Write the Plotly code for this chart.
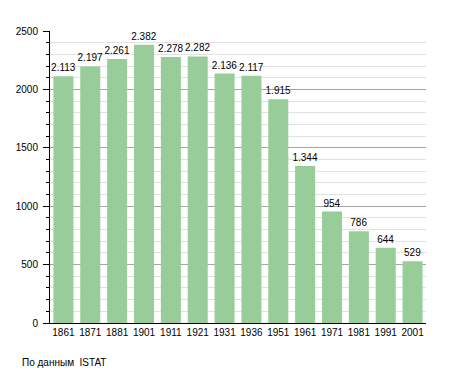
import plotly.graph_objects as go

years = ["1861", "1871", "1881", "1901", "1911", "1921", "1931", "1936", "1951", "1961", "1971", "1981", "1991", "2001"]
population = [2113, 2197, 2261, 2382, 2278, 2282, 2136, 2117, 1915, 1344, 954, 786, 644, 529]
y_ticks = [0, 500, 1000, 1500, 2000, 2500]

# page body has an 8px margin, so the figure is sized to fit the window
W, H = 447, 365
L, R, T, B = 42, 29, 23, 50
pw, ph = W - L - R, H - T - B

fig = go.Figure(go.Bar(
    x=years, y=population,
    marker=dict(color="rgb(152,204,152)", line=dict(width=0)),
    texttemplate="%{y:,}", textposition="outside",
    constraintext="none",
    textfont=dict(size=10, color="black"),
    cliponaxis=False,
))

fig.update_layout(
    width=W, height=H,
    margin=dict(l=L, r=R, t=T, b=B, autoexpand=False),
    paper_bgcolor="white", plot_bgcolor="white",
    separators=",.",
    bargap=0.255,
    font=dict(family="Liberation Sans, Arial, sans-serif", size=10, color="black"),
    showlegend=False,
    annotations=[dict(text="По данным  ISTAT", xref="paper", yref="paper",
                      x=(12 - L) / pw, y=-39 / ph, xanchor="left", yanchor="middle",
                      showarrow=False, font=dict(size=10))],
)
fig.update_xaxes(type="category", showline=True, linecolor="black", linewidth=1,
                 ticks="", showgrid=False, tickfont=dict(size=10), automargin=False)
fig.update_yaxes(range=[0, 2500], tickvals=y_ticks, showline=True, linecolor="black", linewidth=1,
                 ticks="outside", ticklen=6, tickcolor="black", ticklabelstandoff=3,
                 showgrid=True, gridcolor="rgb(165,165,165)", gridwidth=1,
                 zeroline=False, automargin=False,
                 minor=dict(dtick=100, showgrid=True, gridcolor="rgb(225,225,225)",
                            ticks="outside", ticklen=3, tickcolor="black"),
                 tickfont=dict(size=10))

fig.write_html("out.html")
